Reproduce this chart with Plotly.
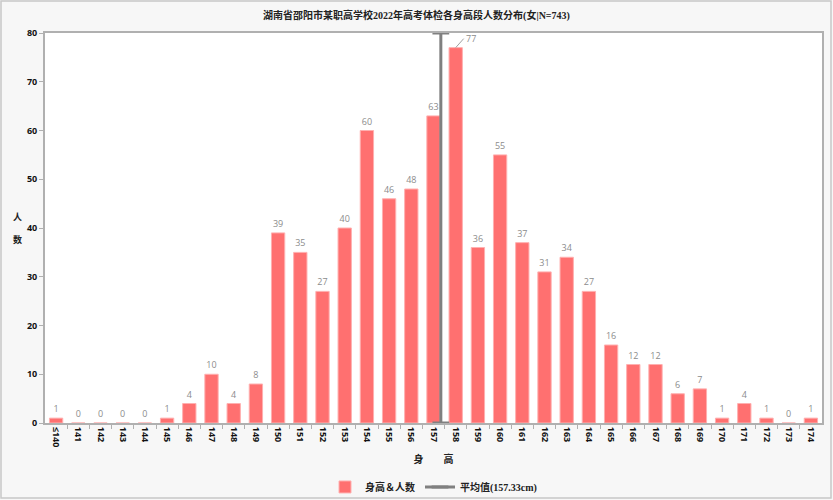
import plotly.graph_objects as go

categories = ["≤140", "141", "142", "143", "144", "145", "146", "147", "148", "149",
              "150", "151", "152", "153", "154", "155", "156", "157", "158", "159",
              "160", "161", "162", "163", "164", "165", "166", "167", "168", "169",
              "170", "171", "172", "173", "174"]
counts = [1, 0, 0, 0, 0, 1, 4, 10, 4, 8,
          39, 35, 27, 40, 60, 46, 48, 63, 77, 36,
          55, 37, 31, 34, 27, 16, 12, 12, 6, 7,
          1, 4, 1, 0, 1]
first_height = 140
mean_height = 157.33
y_ticks = [0, 10, 20, 30, 40, 50, 60, 70, 80]

title = "湖南省邵阳市某职高学校2022年高考体检各身高段人数分布(女|N=743)"
font_cjk = "Noto Sans CJK SC"
font_mixed = "Liberation Serif, Noto Sans CJK SC"

xs = list(range(len(categories)))
mean_x = mean_height - first_height
peak = counts.index(max(counts))

fig = go.Figure()
fig.add_trace(go.Bar(
    x=xs, y=counts, name="身高＆人数",
    marker=dict(color="#ff7070", line=dict(color="#ffb0b0", width=1)),
    width=0.6,
    text=[str(c) if i != peak else "" for i, c in enumerate(counts)],
    textposition="outside",
    textfont=dict(color="#8c8c8c", size=9, family="Open Sans"),
    cliponaxis=False,
))
fig.add_trace(go.Scatter(
    x=[mean_x, mean_x], y=[0, 80], mode="lines+markers",
    name="平均值(157.33cm)",
    line=dict(color="#808080", width=3),
    marker=dict(symbol="line-ew", size=12, line=dict(color="#808080", width=3)),
    cliponaxis=False,
))

# label for the tallest bar (offset with leader line)
fig.add_annotation(x=peak, y=counts[peak], text=str(counts[peak]), showarrow=True,
                   arrowhead=0, arrowwidth=1, arrowcolor="#a0a0a0",
                   ax=8, ay=-9, xanchor="left", yanchor="middle",
                   font=dict(color="#8c8c8c", size=9, family="Open Sans"))

fig.update_layout(
    width=833, height=500,
    paper_bgcolor="#f7f7f7", plot_bgcolor="#ffffff",
    margin=dict(l=45, r=11, t=33, b=77, autoexpand=False),
    title=dict(text=title, x=0.5, xanchor="center", y=0.97, yanchor="middle",
               font=dict(family=font_mixed, size=10, color="#222222", weight="bold")),
    showlegend=True,
    legend=dict(orientation="h", x=0.5, xanchor="center", y=-0.164, yanchor="middle",
                font=dict(family=font_mixed, size=10, color="#222222", weight="bold"),
                bgcolor="rgba(0,0,0,0)"),
    bargap=0.4,
    font=dict(family=font_cjk),
)
fig.update_xaxes(
    range=[-0.5, len(categories) - 0.5], automargin=False,
    tickmode="array", tickvals=xs, ticktext=categories, tickangle=90,
    tickfont=dict(family="Open Sans", size=9, color="#111111", weight="bold"),
    showline=True, linecolor="#b0b0b0", linewidth=2, mirror=True,
    ticks="", showgrid=False, zeroline=False,
    title=dict(text="<b>身　　高</b>", font=dict(family=font_cjk, size=10, color="#222222"), standoff=10),
    minor=dict(tickmode="array", tickvals=[i + 0.5 for i in xs[:-1]],
               ticks="outside", ticklen=4, tickcolor="#b0b0b0"),
)
fig.update_yaxes(
    range=[0, 80], tickmode="array", tickvals=y_ticks, automargin=False,
    tickfont=dict(family="Open Sans", size=9, color="#111111", weight="bold"),
    showline=True, linecolor="#b0b0b0", linewidth=2, mirror=True,
    ticks="outside", ticklen=4, tickcolor="#b0b0b0",
    showgrid=False, zeroline=False,
)
fig.add_annotation(text="<b>人</b><br><br><b>数</b>", xref="paper", yref="paper",
                   x=-28/777, y=0.5, showarrow=False, xanchor="center", yanchor="middle",
                   font=dict(family=font_cjk, size=9, color="#222222"))
# outer frame
fig.add_shape(type="rect", xref="paper", yref="paper", x0=-44/777, x1=1 + 9/777,
              y0=-75/390, y1=1 + 32/390, line=dict(color="#c8c8c8", width=1.5))

fig.write_html("out.html", config={"displayModeBar": False},
               post_script="document.body.style.margin='0';")
